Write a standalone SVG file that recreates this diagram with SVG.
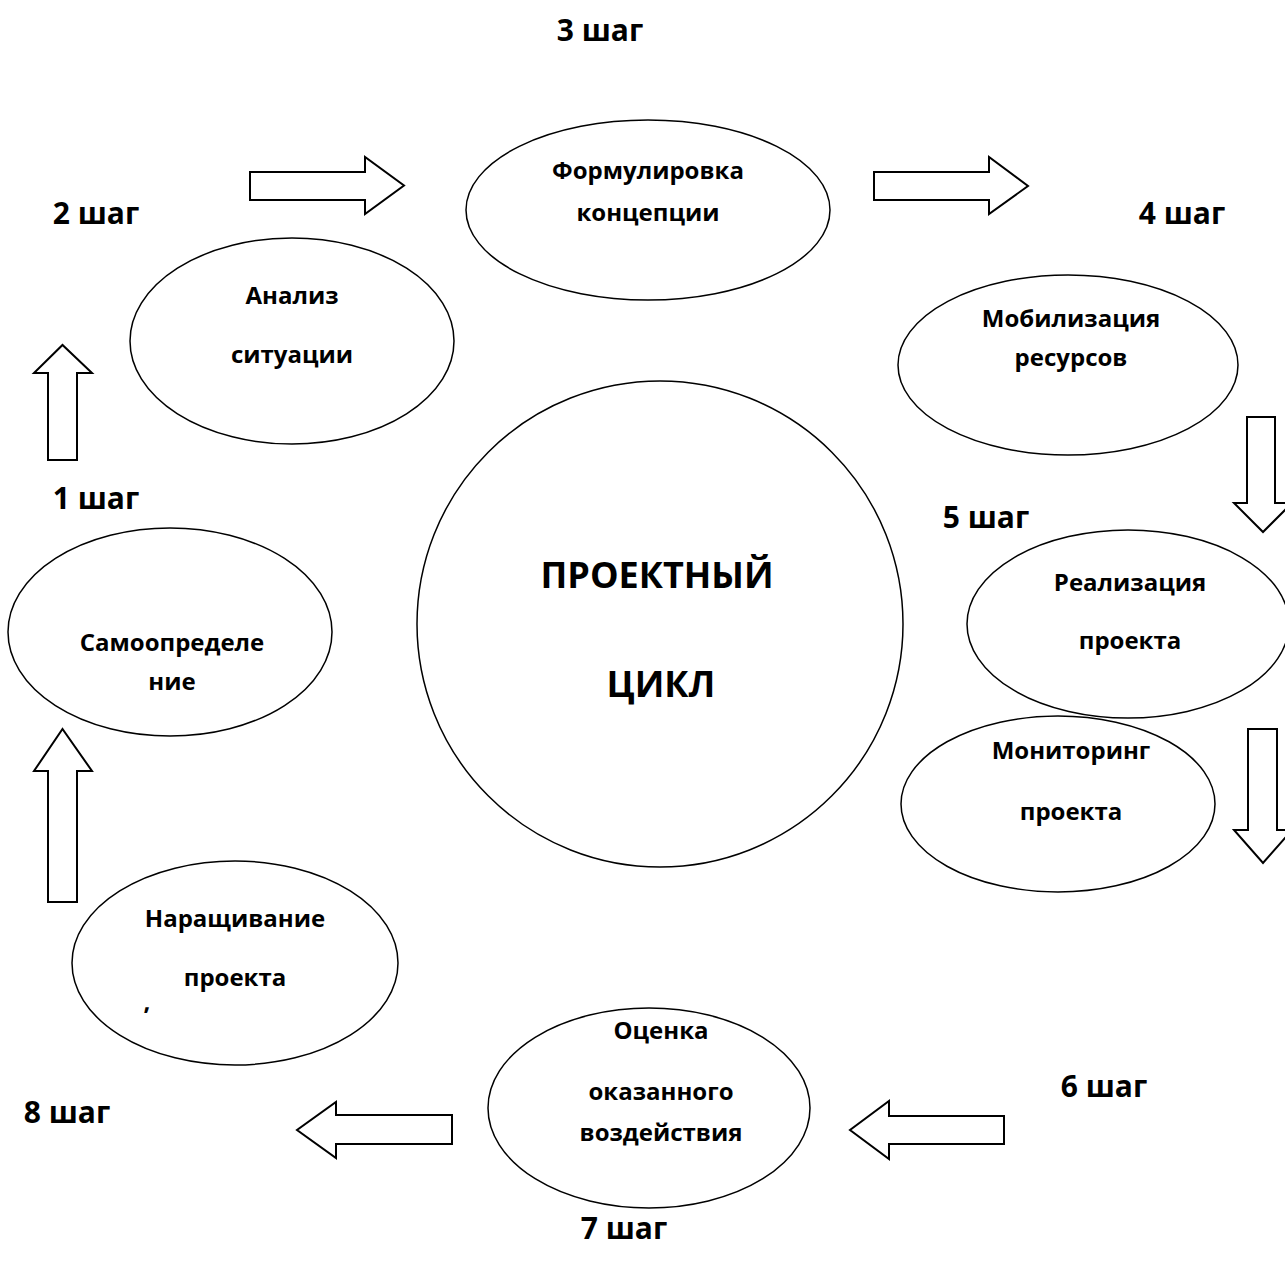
<svg xmlns="http://www.w3.org/2000/svg" width="1285" height="1270" viewBox="0 0 1285 1270">
<style>
.n{fill:#fff;stroke:#000;stroke-width:1.5}
.a{fill:#fff;stroke:#000;stroke-width:2;stroke-linejoin:miter}
text{font-family:"Open Sans","Noto Sans","Liberation Sans",sans-serif;font-weight:bold;fill:#000;text-anchor:middle}
.l{font-size:24px}
.s{font-size:30px}
.c{font-size:36px}
</style>
<rect width="1285" height="1270" fill="#fff"/>
<g id="connectors">
<polygon class="a" points="250,172 365,172 365,157 404,185.5 365,214 365,200 250,200"/>
<polygon class="a" points="874,172 989,172 989,157 1028,186 989,214 989,200 874,200"/>
<polygon class="a" points="48,460 48,373 34,373 62.5,345 92,373 77,373 77,460"/>
<polygon class="a" points="48,902 48,771 34,771 62.5,729 92,771 77,771 77,902"/>
<polygon class="a" points="1247,417 1275,417 1275,503 1292,503 1263,532 1234,503 1247,503"/>
<polygon class="a" points="1248,729 1277,729 1277,830 1292,830 1263,863 1234,830 1248,830"/>
<polygon class="a" points="1004,1116 889,1116 889,1101 850,1130 889,1159 889,1144 1004,1144"/>
<polygon class="a" points="452,1115 336,1115 336,1102 297,1130 336,1158 336,1144 452,1144"/>
</g>
<g id="center">
<circle class="n" cx="660" cy="624" r="243"/>
<text class="c" x="657" y="588">ПРОЕКТНЫЙ</text>
<text class="c" x="661" y="697">ЦИКЛ</text>
</g>
<g id="n3">
<ellipse class="n" cx="648" cy="210" rx="182" ry="90"/>
<text class="l" x="648" y="179">Формулировка</text>
<text class="l" x="648" y="221">концепции</text>
</g>
<g id="n2">
<ellipse class="n" cx="292" cy="341" rx="162" ry="103"/>
<text class="l" x="292" y="304">Анализ</text>
<text class="l" x="292" y="363">ситуации</text>
</g>
<g id="n4">
<ellipse class="n" cx="1068" cy="365" rx="170" ry="90"/>
<text class="l" x="1071" y="327">Мобилизация</text>
<text class="l" x="1071" y="366">ресурсов</text>
</g>
<g id="n5">
<ellipse class="n" cx="1128" cy="624" rx="161" ry="94"/>
<text class="l" x="1130" y="591">Реализация</text>
<text class="l" x="1130" y="649">проекта</text>
</g>
<g id="n1">
<ellipse class="n" cx="170" cy="632" rx="162" ry="104"/>
<text class="l" x="172" y="651">Самоопределе</text>
<text class="l" x="172" y="690">ние</text>
</g>
<g id="n6">
<ellipse class="n" cx="1058" cy="804" rx="157" ry="88"/>
<text class="l" x="1071" y="759">Мониторинг</text>
<text class="l" x="1071" y="820">проекта</text>
</g>
<g id="n7">
<ellipse class="n" cx="649" cy="1108" rx="161" ry="100"/>
<text class="l" x="661" y="1039">Оценка</text>
<text class="l" x="661" y="1100">оказанного</text>
<text class="l" x="661" y="1141">воздействия</text>
</g>
<g id="n8">
<ellipse class="n" cx="235" cy="963" rx="163" ry="102"/>
<text class="l" x="235" y="927">Наращивание</text>
<text class="l" x="235" y="986">проекта</text>
<text class="l" x="147" y="1010">‚</text>
</g>
<g id="steps">
<text class="s" x="600" y="41">3 шаг</text>
<text class="s" x="96" y="224">2 шаг</text>
<text class="s" x="1182" y="224">4 шаг</text>
<text class="s" x="96" y="509">1 шаг</text>
<text class="s" x="986" y="528">5 шаг</text>
<text class="s" x="1104" y="1097">6 шаг</text>
<text class="s" x="67" y="1123">8 шаг</text>
<text class="s" x="624" y="1239">7 шаг</text>
</g>
</svg>
